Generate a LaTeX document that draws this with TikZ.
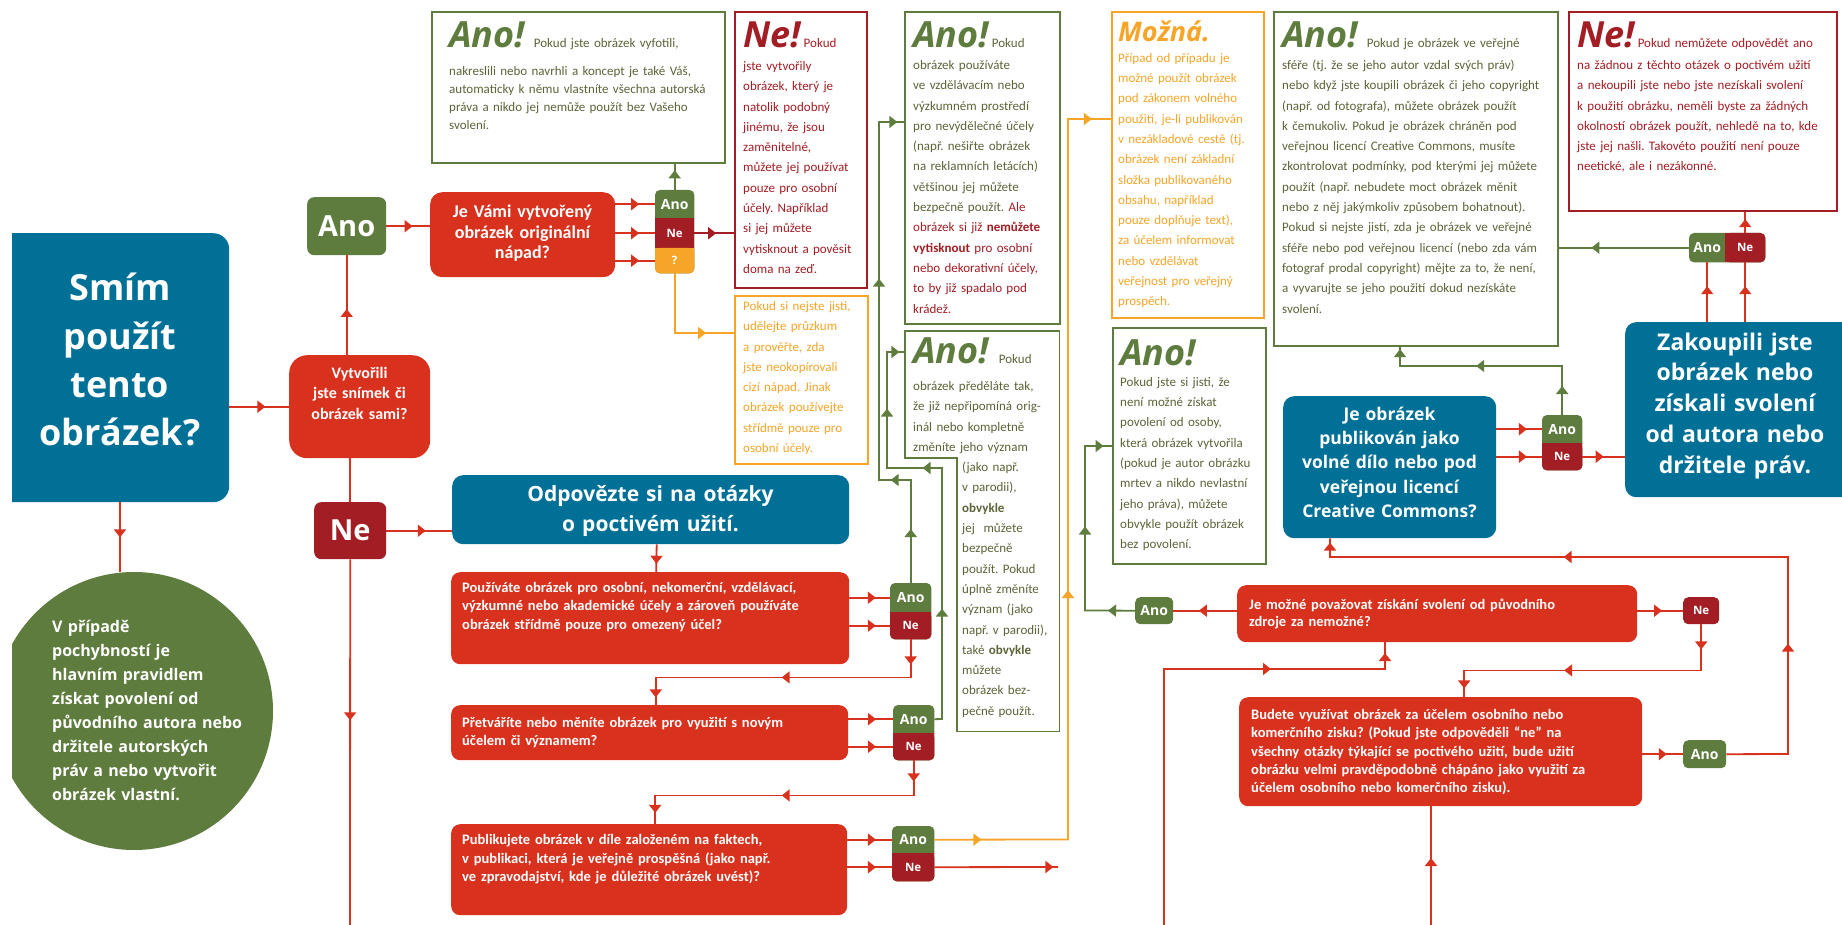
\documentclass[tikz,border=0pt]{standalone}
\usepackage{fontspec}
\setmainfont{Carlito}
\newfontfamily\headfont{Open Sans}
\usetikzlibrary{arrows.meta,calc,decorations.markings,backgrounds}
\frenchspacing

\definecolor{cblue}{RGB}{0,112,150}
\definecolor{cred}{RGB}{216,50,30}
\definecolor{cdred}{RGB}{163,30,36}
\definecolor{cgreen}{RGB}{94,124,62}
\definecolor{corange}{RGB}{246,165,40}
\definecolor{ctext}{RGB}{92,100,56}

\newcommand{\titA}{\headfont\bfseries\itshape\fontsize{36}{36}\selectfont}
\newcommand{\titM}{\headfont\bfseries\itshape\fontsize{27}{27}\selectfont}

\tikzset{
  midarr/.style={postaction={decorate,decoration={markings,mark=at position #1 with {\arrow{Triangle[length=8pt,width=12pt]}}}}},
  rline/.style={draw=cred, line width=1.8pt},
  dline/.style={draw=cdred, line width=1.8pt},
  gline/.style={draw=cgreen, line width=1.8pt},
  oline/.style={draw=corange, line width=1.8pt},
  qbox/.style={fill=cred, rounded corners=9pt, inner sep=0pt, anchor=north west},
  bbox/.style={fill=cblue, rounded corners=11pt, inner sep=0pt, anchor=north west},
  tframe/.style={draw=#1, line width=1.8pt, inner sep=0pt, anchor=north west},
  qtxt/.style={text=white, inner sep=0pt, anchor=base west, align=left, text width=#1, font=\bfseries\fontsize{14.5}{18.3}\selectfont},
  htxt/.style={text=white, inner sep=0pt, anchor=base, align=center, text width=#1},
  btxt/.style={inner sep=0pt, anchor=base west, align=left, text width=#1, font=\fontsize{13}{20.3}\selectfont},
  lbl/.style={text=white, inner sep=0pt, anchor=north west, font=\headfont\bfseries\fontsize{14}{14}\selectfont},
  lbln/.style={lbl, font=\headfont\bfseries\fontsize{11.5}{11.5}\selectfont},
}

\begin{document}
\begin{tikzpicture}[x=1pt,y=-1pt]
\useasboundingbox (0,0) rectangle (1842,925);
\begin{scope}[on background layer]
  \fill[white] (0,0) rectangle (1842,925);
\end{scope}
\clip (12,0) rectangle (1842,925);

% start
\node[bbox, rounded corners=16pt, minimum width=239pt, minimum height=269pt] (q0) at (-10,233) {};
\node[htxt=220pt, font=\headfont\bfseries\fontsize{36}{48.3}\selectfont] (q0t) at (120,301) {Smím\\použít\\tento\\obrázek?};
\node[circle, fill=cgreen, minimum size=278pt, inner sep=0pt] (tip) at (134,711) {};
\node[anchor=base west, inner sep=0pt, align=left, text width=235pt, text=white, font=\headfont\bfseries\fontsize{16}{24}\selectfont] (tipt) at (52,632) {V případě\\pochybností je\\hlavním pravidlem\\získat povolení od\\původního autora nebo\\držitele autorských\\práv a nebo vytvořit\\obrázek vlastní.};

% first question
\node[qbox, rounded corners=18pt, minimum width=141pt, minimum height=103pt] (q1) at (289,355) {};
\node[htxt=135pt, font=\bfseries\fontsize{16}{20.5}\selectfont] (q1t) at (359.5,378) {Vytvořili\\jste snímek či\\obrázek sami?};
\node[lbl, fill=cgreen, rounded corners=7pt, minimum width=79pt, minimum height=58pt, font=\headfont\bfseries\fontsize{29}{29}\selectfont] (ano1) at (307,197) {Ano};
\node[lbl, fill=cdred, rounded corners=7pt, minimum width=72pt, minimum height=57pt, font=\headfont\bfseries\fontsize{29}{29}\selectfont] (ne1) at (314,502) {Ne};

% own picture
\node[qbox, rounded corners=12pt, minimum width=185pt, minimum height=85pt] (q2) at (430,192) {};
\node[htxt=180pt, font=\bfseries\fontsize{18}{20.7}\selectfont] (q2t) at (522.5,217.5) {Je Vámi vytvořený\\obrázek originální\\nápad?};
\node[lbl, minimum width=39pt, minimum height=28pt] (s2a) at (655,190) {Ano};
\node[lbln, minimum width=39pt, minimum height=30pt] (s2n) at (655,218) {Ne};
\node[lbln, minimum width=39pt, minimum height=25pt] (s2q) at (655,248) {?};

\node[tframe=cgreen, minimum width=293pt, minimum height=151pt] (a1) at (431,11) {};
\node[btxt=300pt, text=ctext, font=\fontsize{13}{18}\selectfont] (a1t) at (449,48) {{\titA\color{cgreen}Ano!}\hspace{9pt}Pokud jste obrázek vyfotili,\\[9.5pt]nakreslili nebo navrhli a koncept je také Váš,\\automaticky k němu vlastníte všechna autorská\\práva a nikdo jej nemůže použít bez Vašeho\\svolení.};

\node[tframe=cdred, minimum width=132pt, minimum height=276pt] (a2) at (734,11) {};
\node[btxt=140pt, text=cdred] (a2t) at (743,48) {{\titA Ne!}\hspace{3pt}Pokud\\[2.2pt]jste vytvořily\\obrázek, který je\\natolik podobný\\jinému, že jsou\\zaměnitelné,\\můžete jej používat\\pouze pro osobní\\účely. Například\\si jej můžete\\vytisknout a pověsit\\doma na zeď.};

\node[tframe=corange, minimum width=133pt, minimum height=168pt] (a3) at (734,295) {};
\node[btxt=140pt, text=corange] (a3t) at (743,310.5) {Pokud si nejste jisti,\\udělejte průzkum\\a prověřte, zda\\jste neokopírovali\\cizí nápad. Jinak\\obrázek používejte\\střídmě pouze pro\\osobní účely.};

% fair use
\node[bbox, minimum width=397pt, minimum height=69pt] (q3) at (452,475) {};
\node[htxt=390pt, font=\headfont\bfseries\fontsize{21}{30}\selectfont] (q3t) at (650.5,501) {Odpovězte si na otázky\\o poctivém užití.};

\node[qbox, minimum width=398pt, minimum height=92pt] (q4) at (451,572) {};
\node[qtxt=390pt] (q4t) at (462,592.5) {Používáte obrázek pro osobní, nekomerční, vzdělávací,\\výzkumné nebo akademické účely a zároveň používáte\\obrázek střídmě pouze pro omezený účel?};
\node[lbl, minimum width=41pt, minimum height=29pt] (s4a) at (890,583) {Ano};
\node[lbln, minimum width=41pt, minimum height=27pt] (s4n) at (890,612) {Ne};

\node[qbox, minimum width=397pt, minimum height=55pt] (q5) at (451,705) {};
\node[qtxt=390pt, font=\bfseries\fontsize{14.5}{17.5}\selectfont] (q5t) at (462,727.5) {Přetváříte nebo měníte obrázek pro využití s novým\\účelem či významem?};
\node[lbl, minimum width=41pt, minimum height=28pt] (s5a) at (893,705) {Ano};
\node[lbln, minimum width=41pt, minimum height=27pt] (s5n) at (893,733) {Ne};

\node[qbox, minimum width=396pt, minimum height=91pt] (q6) at (451,824) {};
\node[qtxt=390pt, font=\bfseries\fontsize{14.5}{18.5}\selectfont] (q6t) at (462,844.5) {Publikujete obrázek v díle založeném na faktech,\\v publikaci, která je veřejně prospěšná (jako např.\\ve zpravodajství, kde je důležité obrázek uvést)?};
\node[lbl, minimum width=42pt, minimum height=27pt] (s6a) at (892,826) {Ano};
\node[lbln, minimum width=42pt, minimum height=28pt] (s6n) at (892,853) {Ne};

\node[tframe=cgreen, minimum width=155pt, minimum height=312pt] (a4) at (904,11) {};
\node[btxt=165pt, text=ctext] (a4t) at (913,48) {{\titA\color{cgreen}Ano!}\hspace{3pt}Pokud\\[1.2pt]obrázek používáte\\ve vzdělávacím nebo\\výzkumném prostředí\\pro nevýdělečné účely\\(např. nešiřte obrázek\\na reklamních letácích)\\většinou jej můžete\\bezpečně použít. \color{cdred}Ale\\obrázek si již \textbf{nemůžete}\\\textbf{vytisknout} pro osobní\\nebo dekorativní účely,\\to by již spadalo pod\\krádež.};

\node[inner sep=0pt, anchor=north west, minimum width=154pt, minimum height=400pt] (a8) at (905,331) {};
\draw[gline, line join=miter] (a8.north west) -- (a8.north east) -- (a8.south east) -- ($(a8.south west)+(52,0)$) -- ($(a8.north west)+(52,127)$) -- ($(a8.north west)+(0,127)$) -- cycle;
\node[btxt=165pt, text=ctext] (a8t) at (913,363) {{\titA\color{cgreen}Ano!}\hspace{10pt}Pokud\\[7.1pt]obrázek předěláte tak,\\že již nepřipomíná orig-\\inál nebo kompletně\\změníte jeho význam\\\hspace*{49pt}(jako např.\\\hspace*{49pt}v parodii),\\\hspace*{49pt}\textbf{obvykle}\\\hspace*{49pt}jej\ \ můžete\\\hspace*{49pt}bezpečně\\\hspace*{49pt}použít. Pokud\\\hspace*{49pt}úplně změníte\\\hspace*{49pt}význam (jako\\\hspace*{49pt}např. v parodii),\\\hspace*{49pt}také \textbf{obvykle}\\\hspace*{49pt}můžete\\\hspace*{49pt}obrázek bez-\\\hspace*{49pt}pečně použít.};

\node[tframe=corange, minimum width=152pt, minimum height=306pt] (a5) at (1111,11) {};
\node[btxt=165pt, text=corange] (a5t) at (1118,42) {{\titM Možná.}\\Případ od případu je\\možné použít obrázek\\pod zákonem volného\\použití, je-li publikován\\v nezákladové cestě (tj.\\obrázek není základní\\složka publikovaného\\obsahu, například\\pouze doplňuje text),\\za účelem informovat\\nebo vzdělávat\\veřejnost pro veřejný\\prospěch.};

% permission
\node[qbox, minimum width=400pt, minimum height=57pt] (q7) at (1237,585) {};
\node[qtxt=390pt, font=\bfseries\fontsize{14.5}{17}\selectfont] (q7t) at (1249,609.5) {Je možné považovat získání svolení od původního\\zdroje za nemožné?};
\node[lbl, fill=cgreen, rounded corners=5pt, minimum width=38pt, minimum height=27pt] (l7) at (1135,597) {Ano};
\node[lbln, fill=cdred, rounded corners=5pt, minimum width=36pt, minimum height=27pt] (l7n) at (1683,597) {Ne};

\node[qbox, minimum width=403pt, minimum height=109pt] (q8) at (1239,697) {};
\node[qtxt=395pt] (q8t) at (1251,719.5) {Budete využívat obrázek za účelem osobního nebo\\komerčního zisku? (Pokud jste odpověděli “ne” na\\všechny otázky týkající se poctivého užití, bude užití\\obrázku velmi pravděpodobně chápáno jako využití za\\účelem osobního nebo komerčního zisku).};
\node[lbl, fill=cgreen, rounded corners=5pt, minimum width=43pt, minimum height=28pt] (l8) at (1683,740) {Ano};

\node[tframe=cgreen, minimum width=153pt, minimum height=236pt] (a9) at (1112,327) {};
\node[btxt=165pt, text=ctext] (a9t) at (1120,365) {{\titA\color{cgreen}Ano!}\\[1.1pt]Pokud jste si jisti, že\\není možné získat\\povolení od osoby,\\která obrázek vytvořila\\(pokud je autor obrázku\\mrtev a nikdo nevlastní\\jeho práva), můžete\\obvykle použít obrázek\\bez povolení.};

% public domain
\node[bbox, minimum width=213pt, minimum height=142pt] (q9) at (1283,396) {};
\node[htxt=210pt, font=\headfont\bfseries\fontsize{17.5}{24.2}\selectfont] (q9t) at (1389.5,420.5) {Je obrázek\\publikován jako\\volné dílo nebo pod\\veřejnou licencí\\Creative Commons?};
\node[lbl, minimum width=40pt, minimum height=28pt] (s9a) at (1542,415) {Ano};
\node[lbln, minimum width=40pt, minimum height=27pt] (s9n) at (1542,443) {Ne};

\node[bbox, minimum width=235pt, minimum height=175pt] (q10) at (1625,322) {};
\node[htxt=215pt, font=\headfont\bfseries\fontsize{23}{30.8}\selectfont] (q10t) at (1735,350) {Zakoupili jste\\obrázek nebo\\získali svolení\\od autora nebo\\držitele práv.};
\node[lbl, minimum width=36pt, minimum height=29pt] (s10a) at (1689,233) {Ano};
\node[lbln, minimum width=40pt, minimum height=29pt] (s10n) at (1725,233) {Ne};

\node[tframe=cgreen, minimum width=284pt, minimum height=334pt] (a6) at (1273,11) {};
\node[btxt=300pt, text=ctext] (a6t) at (1282,48) {{\titA\color{cgreen}Ano!}\hspace{9pt}Pokud je obrázek ve veřejné\\[1.2pt]sféře (tj. že se jeho autor vzdal svých práv)\\nebo když jste koupili obrázek či jeho copyright\\(např. od fotografa), můžete obrázek použít\\k čemukoliv. Pokud je obrázek chráněn pod\\veřejnou licencí Creative Commons, musíte\\zkontrolovat podmínky, pod kterými jej můžete\\použít (např. nebudete moct obrázek měnit\\nebo z něj jakýmkoliv způsobem bohatnout).\\Pokud si nejste jistí, zda je obrázek ve veřejné\\sféře nebo pod veřejnou licencí (nebo zda vám\\fotograf prodal copyright) mějte za to, že není,\\a vyvarujte se jeho použití dokud nezískáte\\svolení.};

\node[tframe=cdred, minimum width=268pt, minimum height=199pt] (a7) at (1568,11) {};
\node[btxt=290pt, text=cdred] (a7t) at (1577,48) {{\titA Ne!}\hspace{3pt}Pokud nemůžete odpovědět ano\\[1.2pt]na žádnou z těchto otázek o poctivém užití\\a nekoupili jste nebo jste nezískali svolení\\k použití obrázku, neměli byste za žádných\\okolností obrázek použít, nehledě na to, kde\\jste jej našli. Takovéto použití není pouze\\neetické, ale i nezákonné.};

% stacked answer boxes
\begin{scope}[on background layer]
  \fill[cgreen, rounded corners=5pt] (s2a.north west) rectangle (s2q.south east);
  \fill[cdred] (s2n.north west) rectangle (s2n.south east);
  \fill[corange, rounded corners=5pt] (s2q.north west) rectangle (s2q.south east);
  \fill[corange] (s2q.north west) rectangle ([yshift=-6pt]s2q.north east);
  \fill[cgreen, rounded corners=5pt] (s4a.north west) rectangle (s4n.south east);
  \fill[cdred, rounded corners=5pt] (s4n.north west) rectangle (s4n.south east);
  \fill[cdred] (s4n.north west) rectangle ([yshift=-6pt]s4n.north east);
  \fill[cgreen, rounded corners=5pt] (s5a.north west) rectangle (s5n.south east);
  \fill[cdred, rounded corners=5pt] (s5n.north west) rectangle (s5n.south east);
  \fill[cdred] (s5n.north west) rectangle ([yshift=-6pt]s5n.north east);
  \fill[cgreen, rounded corners=5pt] (s6a.north west) rectangle (s6n.south east);
  \fill[cdred, rounded corners=5pt] (s6n.north west) rectangle (s6n.south east);
  \fill[cdred] (s6n.north west) rectangle ([yshift=-6pt]s6n.north east);
  \fill[cgreen, rounded corners=5pt] (s9a.north west) rectangle (s9n.south east);
  \fill[cdred, rounded corners=5pt] (s9n.north west) rectangle (s9n.south east);
  \fill[cdred] (s9n.north west) rectangle ([yshift=-6pt]s9n.north east);
  \fill[cgreen, rounded corners=5pt] (s10a.north west) rectangle (s10n.south east);
  \fill[cdred, rounded corners=5pt] (s10n.north west) rectangle (s10n.south east);
  \fill[cdred] (s10n.north west) rectangle ([xshift=6pt]s10n.south west);
\end{scope}

% connectors
\coordinate (nebot) at (350,925);
\coordinate (neend) at (1058,867);
\coordinate (bot7) at (1164,925);
\coordinate (bot8) at (1431,925);

\draw[rline, midarr=36pt] (q0.east |- q1.west) -- (q1.west);
\draw[rline, midarr=35pt] (q0t.base |- q0.south) -- (q0t.base |- tip.north);
\draw[rline, midarr=46pt] (ano1.south |- q1.north) -- (ano1.south);
\draw[rline] (ne1.north |- q1.south) -- (ne1.north);
\draw[rline, midarr=0.6] (ano1.east) -- (ano1.east -| q2.west);
\draw[rline, midarr=0.6] (ne1.east) -- (ne1.east -| q3.west);
\draw[rline, midarr=0.44] (ne1.south) -- (nebot);

\draw[rline, midarr=0.6] (s2a.west -| q2.east) -- (s2a.west);
\draw[rline, midarr=0.6] (s2n.west -| q2.east) -- (s2n.west);
\draw[rline, midarr=0.6] (s2q.west -| q2.east) -- (s2q.west);
\draw[gline, midarr=0.75] (s2a.north) -- (s2a.north |- a1.south);
\draw[dline, midarr=0.55] (s2n.east) -- (s2n.east -| a2.west);
\draw[oline, midarr=91pt] (s2q.south) |- ($(a3.north west)+(0,38)$);

\draw[rline, midarr=0.7] ($(q3.south)+(6,0)$) -- ($(q4.north)+(6,0)$);
\draw[rline, midarr=0.65] (s4a.west -| q4.east) -- (s4a.west);
\draw[rline, midarr=0.65] (s4n.west -| q4.east) -- (s4n.west);
\draw[rline, midarr=25pt, midarr=167pt, midarr=313pt] (s4n.south) -- ++(0,38) -| ($(q5.north)+(6,0)$);
\draw[gline, midarr=54pt, midarr=123pt, midarr=336pt, midarr=511pt] (s4a.north) |- (879,480) -- (879,122) -- ($(a4.north west)+(0,111)$);

\draw[rline, midarr=0.62] (s5a.west -| q5.east) -- (s5a.west);
\draw[rline, midarr=0.62] (s5n.west -| q5.east) -- (s5n.west);
\draw[rline, midarr=21pt, midarr=167pt, midarr=311pt] (s5n.south) -- ++(0,35) -| ($(q6.north)+(6,0)$);
\draw[gline, midarr=118pt, midarr=278pt, midarr=373pt, midarr=442pt] (s5a.east) -- (942,719) -- (942,468) -- (887,468) -- (887,352) -- ($(a8.north west)+(0,21)$);

\draw[rline, midarr=0.64] (s6a.west -| q6.east) -- (s6a.west);
\draw[rline, midarr=0.64] (s6n.west -| q6.east) -- (s6n.west);
\draw[oline, midarr=47pt, midarr=383pt, midarr=878pt] (s6a.east) -- (1068,839.5) -- (1068,119) -- ($(a5.north west)+(0,108)$);
\draw[rline, midarr=119pt] (s6n.east) -- (neend);

\draw[rline, midarr=0.6] (l7.east -| q7.west) -- (l7.east);
\draw[gline, midarr=27pt, midarr=134pt, midarr=233pt] (l7.west) -- (1085,610.5) -- (1085,446) -- ($(a9.north west)+(0,119)$);
\draw[rline, midarr=0.54] (l7n.west -| q7.east) -- (l7n.west);
\draw[rline, midarr=25pt, midarr=183pt, midarr=301pt] (l7n.south) -- ++(0,46) -| ($(q8.north)+(23.5,0)$);
\draw[rline, midarr=363pt, midarr=493pt] (bot7) |- (1385,669) -- ($(q7.south west)+(148,0)$);

\draw[rline, midarr=0.6] (l8.west -| q8.east) -- (l8.west);
\draw[rline, midarr=172pt, midarr=483pt, midarr=731pt] (l8.east) -- (1788,754) -- (1788,557) -- (1330,557) -- ($(q9.south west)+(47,0)$);
\draw[rline, midarr=67pt] (bot8) -- (bot8 |- q8.south);

\draw[rline, midarr=0.67] (s9a.west -| q9.east) -- (s9a.west);
\draw[rline, midarr=0.67] (s9n.west -| q9.east) -- (s9n.west);
\draw[rline, midarr=0.5] (s9n.east) -- (s9n.east -| q10.west);
\draw[gline, midarr=29pt, midarr=135pt, midarr=228pt] (s9a.north) |- (1400,366) -- ($(a6.south west)+(127,0)$);

\draw[rline, midarr=0.6] (s10a.south |- q10.north) -- (s10a.south);
\draw[rline, midarr=0.6] (s10n.south |- q10.north) -- (s10n.south);
\draw[gline, midarr=0.75] (s10a.west) -- (s10a.west -| a6.east);
\draw[rline, midarr=0.65] (s10n.north) -- (s10n.north |- a7.south);
\end{tikzpicture}
\end{document}
